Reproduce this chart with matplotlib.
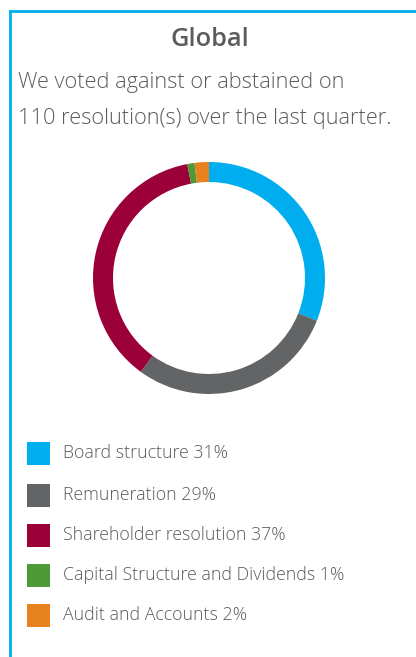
import matplotlib.pyplot as plt
from matplotlib.patches import Rectangle
from matplotlib.lines import Line2D

# breakdown of resolutions voted against / abstained
categories = ["Board structure", "Remuneration", "Shareholder resolution",
              "Capital Structure and Dividends", "Audit and Accounts"]
shares = [31, 29, 37, 1, 2]
colors = ["#00aeef", "#636466", "#9b0039", "#4e9a37", "#e8821e"]

title = "Global"
subtitle = ["We voted against or abstained on",
            "110 resolution(s) over the last quarter."]

W, H = 416, 657
DPI = 100
TXT = "#5b5b5b"

plt.rcParams["font.family"] = ["Open Sans", "DejaVu Sans"]

fig = plt.figure(figsize=(W / DPI, H / DPI), dpi=DPI)
fig.patch.set_facecolor("white")

# light blue frame on top + left
fig.add_artist(Line2D([10 / W, 10 / W], [0, 1 - 11 / H], transform=fig.transFigure,
                      color="#00aeef", lw=2))
fig.add_artist(Line2D([10 / W, 1], [1 - 11 / H, 1 - 11 / H], transform=fig.transFigure,
                      color="#00aeef", lw=2))

# header text
fig.text(210 / W, 1 - 40 / H, title, ha="center", va="center",
         fontsize=18.3, fontweight="semibold", color=TXT)
fig.text(18 / W, 1 - 88 / H, subtitle[0], ha="left", va="baseline",
         fontsize=15.7, color=TXT, fontweight="light")
fig.text(18 / W, 1 - 124 / H, subtitle[1], ha="left", va="baseline",
         fontsize=15.7, color=TXT, fontweight="light")

# donut
cx, cy, r = 209, 278, 116
ax = fig.add_axes([(cx - r) / W, 1 - (cy + r) / H, 2 * r / W, 2 * r / H])
ax.pie(shares, colors=colors, startangle=90, counterclock=False, radius=1,
       wedgeprops=dict(width=20 / r, linewidth=0))
ax.set_xlim(-1, 1)
ax.set_ylim(-1, 1)
ax.set_aspect("equal")
ax.axis("off")

# legend, one row per category
row_y = [453, 495, 535, 575, 615]
for name, pct, col, y in zip(categories, shares, colors, row_y):
    fig.add_artist(Rectangle((27 / W, 1 - (y + 11.5) / H), 23 / W, 23 / H,
                             transform=fig.transFigure, color=col, lw=0))
    fig.text(63 / W, 1 - y / H, f"{name} {pct}%", ha="left", va="center",
             fontsize=12.8, color=TXT, fontweight="light")

fig.savefig("out.png", dpi=DPI, facecolor="white")
